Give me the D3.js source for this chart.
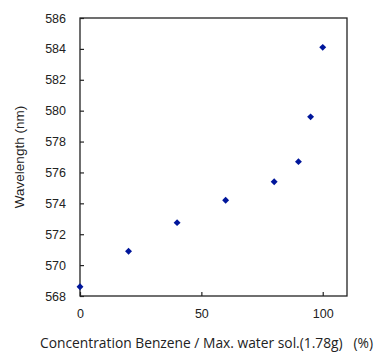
<!DOCTYPE html>
<html>
<head>
<meta charset="utf-8">
<script src="https://cdn.jsdelivr.net/npm/d3@7"></script>
<style>
  body { margin: 0; background: #fff; }
  svg text { font-family: "Liberation Sans", Arial, sans-serif; fill: #222; }
</style>
</head>
<body>
<div id="display"></div>
<script>
// concentration (% of max water solubility) vs. peak wavelength
const concentration = [0, 20, 40, 60, 80, 90, 95, 100];
const wavelength = [568.6, 570.9, 572.75, 574.2, 575.4, 576.7, 579.6, 584.1];
const yTicks = [568, 570, 572, 574, 576, 578, 580, 582, 584, 586];
const xTicks = [0, 50, 100];

const margin = {top: 18, right: 30, bottom: 57, left: 80};
const W = 377, H = 353;
const width = W - margin.left - margin.right;
const height = H - margin.top - margin.bottom;

const svg = d3.select('#display').append('svg')
    .attr('width', W)
    .attr('height', H);

const g = svg.append('g')
    .attr('transform', 'translate(' + margin.left + ',' + margin.top + ')');

const x = d3.scaleLinear().domain([0, 110]).range([0, width]);
const y = d3.scaleLinear().domain([568, 586]).range([height, 0]);

// frame
g.append('rect')
    .attr('width', width).attr('height', height)
    .attr('fill', 'none').attr('stroke', '#222').attr('stroke-width', 1.3);

const yAxis = g.append('g')
    .call(d3.axisLeft(y).tickValues(yTicks).tickSize(-4).tickPadding(14)
        .tickFormat(d3.format('d')));
const xAxis = g.append('g')
    .attr('transform', 'translate(0,' + height + ')')
    .call(d3.axisBottom(x).tickValues(xTicks).tickSize(-4).tickPadding(13));

[yAxis, xAxis].forEach((a) => {
  a.select('.domain').remove();
  a.selectAll('.tick line').attr('stroke', '#222').attr('stroke-width', 1.2);
  a.selectAll('.tick text').style('font-size', '12.5px').attr('fill', '#222');
});

// points (square turned 45deg -> even diamond)
g.append('g')
    .selectAll('path')
    .data(concentration)
    .enter()
    .append('path')
    .attr('d', d3.symbol(d3.symbolSquare, 24))
    .attr('transform', (d, i) =>
      'translate(' + x(d) + ',' + y(wavelength[i]) + ') rotate(45)')
    .attr('fill', '#00169b');

svg.append('text')
    .attr('transform', 'translate(24,' + (margin.top + height / 2) + ') rotate(-90)')
    .attr('text-anchor', 'middle')
    .style('font-size', '13.5px')
    .text('Wavelength (nm)');

svg.append('text')
    .attr('x', 40).attr('y', 348)
    .style('font-family', '"Open Sans", sans-serif')
    .style('font-size', '13.8px')
    .attr('xml:space', 'preserve')
    .text('Concentration Benzene / Max. water sol.(1.78g)   (%)');
</script>
</body>
</html>
